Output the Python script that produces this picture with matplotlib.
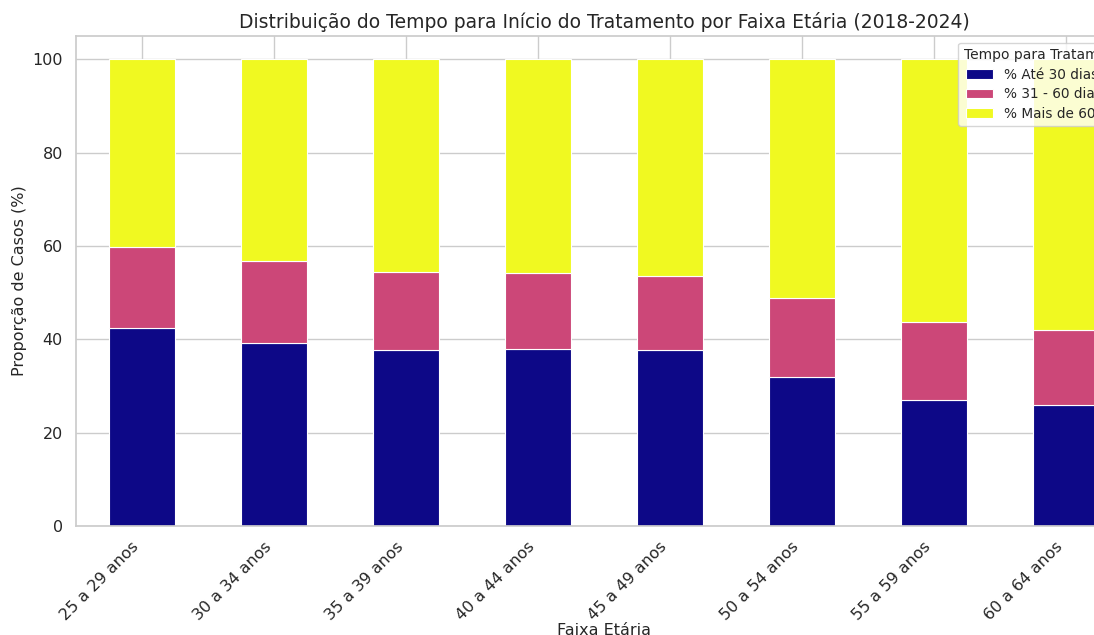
import matplotlib
matplotlib.use('Agg')
import matplotlib.pyplot as plt
import seaborn as sns
import pandas as pd

sns.set_theme(style='whitegrid')

faixas = ['25 a 29 anos', '30 a 34 anos', '35 a 39 anos', '40 a 44 anos',
          '45 a 49 anos', '50 a 54 anos', '55 a 59 anos', '60 a 64 anos']
ate_30 = [42.4, 39.2, 37.7, 38.0, 37.6, 32.0, 26.9, 25.9]
de_31_60 = [17.3, 17.5, 16.8, 16.1, 15.9, 16.9, 16.9, 16.1]
mais_60 = [40.3, 43.3, 45.5, 45.9, 46.5, 51.1, 56.2, 58.0]

df = pd.DataFrame({'% Até 30 dias': ate_30,
                   '% 31 - 60 dias': de_31_60,
                   '% Mais de 60 dias': mais_60}, index=faixas)

fig = plt.figure(figsize=(10.94, 6.35), dpi=100)
# axes runs a bit past the right edge, as in the (cropped) reference
ax = fig.add_axes([0.0695, 0.1717, 0.9653, 0.7717])

df.plot(kind='bar', stacked=True, colormap='plasma', ax=ax,
        edgecolor='white', linewidth=0.8, width=0.5)

ax.set_ylim(0, 105)
ax.set_title('Distribuição do Tempo para Início do Tratamento por Faixa Etária (2018-2024)',
             fontsize=13.5)
ax.set_xlabel('Faixa Etária', fontsize=11.5, labelpad=0)
ax.set_ylabel('Proporção de Casos (%)', fontsize=11.5)
plt.setp(ax.get_xticklabels(), rotation=45, ha='right', fontsize=11.5)
plt.setp(ax.get_yticklabels(), fontsize=11.5)

ax.legend(title='Tempo para Tratamento', loc='upper left',
          bbox_to_anchor=(0.829, 1.0), fontsize=9.8, title_fontsize=10,
          labelspacing=0.4)

fig.savefig('out.png', dpi=100)
